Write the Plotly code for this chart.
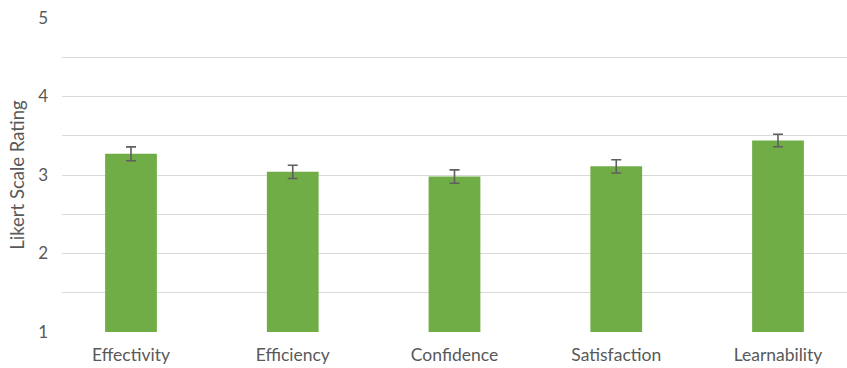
import plotly.graph_objects as go

# Usability questionnaire results (mean Likert rating with error margin)
categories = ["Effectivity", "Efficiency", "Confidence", "Satisfaction", "Learnability"]
means = [3.27, 3.04, 2.98, 3.11, 3.44]
errors = [0.088, 0.085, 0.085, 0.085, 0.08]
y_ticks = [1, 2, 3, 4, 5]

text_color = "#595959"
grid_color = "#d9d9d9"
font_family = "Lato, 'Open Sans', sans-serif"

fig = go.Figure(
    go.Bar(
        x=list(range(len(categories))),
        y=means,
        width=0.32,
        marker=dict(color="#70AD47", line=dict(width=0)),
        error_y=dict(
            type="data",
            array=errors,
            color="#5f5f5f",
            thickness=1.6,
            width=5,
        ),
    )
)

fig.update_layout(
    width=847,
    height=368,
    margin=dict(l=62, r=0, t=18, b=36),
    paper_bgcolor="white",
    plot_bgcolor="white",
    showlegend=False,
    font=dict(family=font_family, color=text_color),
    xaxis=dict(
        tickmode="array",
        tickvals=list(range(len(categories))),
        ticktext=categories,
        range=[-0.4266, 4.4266],
        showgrid=False,
        zeroline=False,
        showline=False,
        ticks="",
        ticklabelstandoff=10,
        tickfont=dict(size=17.5, color=text_color),
    ),
    yaxis=dict(
        range=[1, 5],
        tickmode="array",
        tickvals=y_ticks,
        ticktext=[str(v) for v in y_ticks],
        showgrid=True,
        gridcolor=grid_color,
        gridwidth=1.3,
        zeroline=False,
        showline=False,
        ticks="",
        ticklabelstandoff=13,
        tickfont=dict(size=17, color=text_color),
        title=dict(text="Likert Scale Rating", font=dict(size=18.5, color=text_color), standoff=8),
        minor=dict(dtick=0.5, tick0=1, showgrid=True, gridcolor=grid_color, gridwidth=1.3),
    ),
)

fig.write_html("out.html")
